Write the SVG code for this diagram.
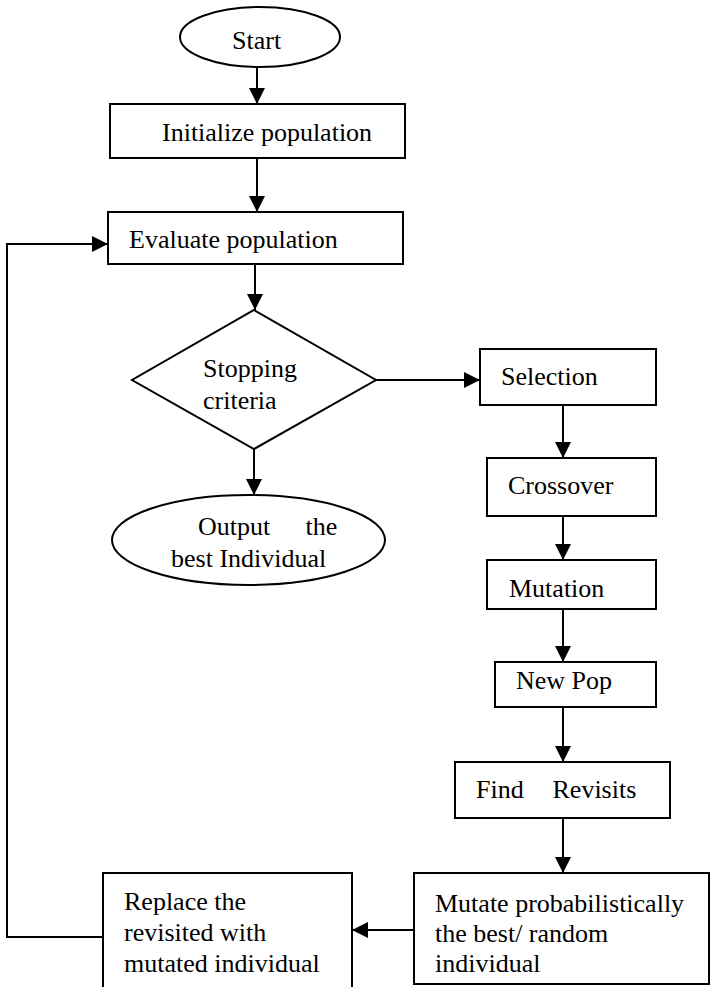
<svg xmlns="http://www.w3.org/2000/svg" width="711" height="987" viewBox="0 0 711 987">
<style>
.s{fill:#fff;stroke:#000;stroke-width:2}
.t{font-family:"Liberation Serif","Times New Roman",serif;font-size:26px;fill:#000}
.c{fill:none;stroke:#000;stroke-width:2}
</style>
<defs>
<marker id="ah" markerUnits="userSpaceOnUse" markerWidth="16" markerHeight="16" refX="16" refY="8" orient="auto">
<path d="M0,0 L16,8 L0,16 z" fill="#000"/>
</marker>
</defs>
<rect width="711" height="987" fill="#fff"/>
<g id="connectors">
<line class="c" x1="257" y1="67" x2="257" y2="104" marker-end="url(#ah)"/>
<line class="c" x1="257" y1="158" x2="257" y2="212" marker-end="url(#ah)"/>
<line class="c" x1="255" y1="264" x2="255" y2="310" marker-end="url(#ah)"/>
<line class="c" x1="376" y1="380" x2="480" y2="380" marker-end="url(#ah)"/>
<line class="c" x1="254" y1="449" x2="254" y2="495" marker-end="url(#ah)"/>
<line class="c" x1="563" y1="405" x2="563" y2="458" marker-end="url(#ah)"/>
<line class="c" x1="563" y1="516" x2="563" y2="560" marker-end="url(#ah)"/>
<line class="c" x1="563" y1="609" x2="563" y2="662" marker-end="url(#ah)"/>
<line class="c" x1="563" y1="707" x2="563" y2="762" marker-end="url(#ah)"/>
<line class="c" x1="563" y1="818" x2="563" y2="873" marker-end="url(#ah)"/>
<line class="c" x1="414" y1="930" x2="352" y2="930" marker-end="url(#ah)"/>
<polyline class="c" points="103,937 7,937 7,244 108,244" marker-end="url(#ah)"/>
</g>
<g id="start">
<ellipse class="s" cx="260" cy="37" rx="80" ry="30"/>
<text class="t" x="232" y="49">Start</text>
</g>
<g id="init">
<rect class="s" x="110" y="104" width="295" height="54"/>
<text class="t" x="162" y="141">Initialize population</text>
</g>
<g id="evaluate">
<rect class="s" x="108" y="212" width="295" height="52"/>
<text class="t" x="129" y="248">Evaluate population</text>
</g>
<g id="stopping">
<polygon class="s" points="254,310 376,380 254,449 132,380"/>
<text class="t"><tspan x="203" y="377">Stopping</tspan><tspan x="203" y="409">criteria</tspan></text>
</g>
<g id="output">
<ellipse class="s" cx="248.5" cy="540" rx="136.5" ry="45"/>
<text class="t"><tspan x="198" y="535">Output</tspan><tspan x="299" y="535"> the</tspan><tspan x="171" y="567">best Individual</tspan></text>
</g>
<g id="selection">
<rect class="s" x="480" y="349" width="176" height="56"/>
<text class="t" x="501" y="385">Selection</text>
</g>
<g id="crossover">
<rect class="s" x="487" y="458" width="169" height="58"/>
<text class="t" x="508" y="494">Crossover</text>
</g>
<g id="mutation">
<rect class="s" x="487" y="560" width="169" height="49"/>
<text class="t" x="509" y="597">Mutation</text>
</g>
<g id="newpop">
<rect class="s" x="495" y="662" width="161" height="45"/>
<text class="t" x="516" y="689">New Pop</text>
</g>
<g id="findrevisits">
<rect class="s" x="455" y="762" width="215" height="56"/>
<text class="t"><tspan x="476" y="798">Find</tspan><tspan x="546" y="798"> Revisits</tspan></text>
</g>
<g id="mutate">
<rect class="s" x="414" y="873" width="295" height="111"/>
<text class="t"><tspan x="435" y="912">Mutate probabilistically</tspan><tspan x="435" y="942">the best/ random</tspan><tspan x="435" y="972">individual</tspan></text>
</g>
<g id="replace">
<rect class="s" x="103" y="873" width="249" height="124"/>
<text class="t"><tspan x="124" y="910">Replace the</tspan><tspan x="124" y="941">revisited with</tspan><tspan x="124" y="972">mutated individual</tspan></text>
</g>
</svg>
